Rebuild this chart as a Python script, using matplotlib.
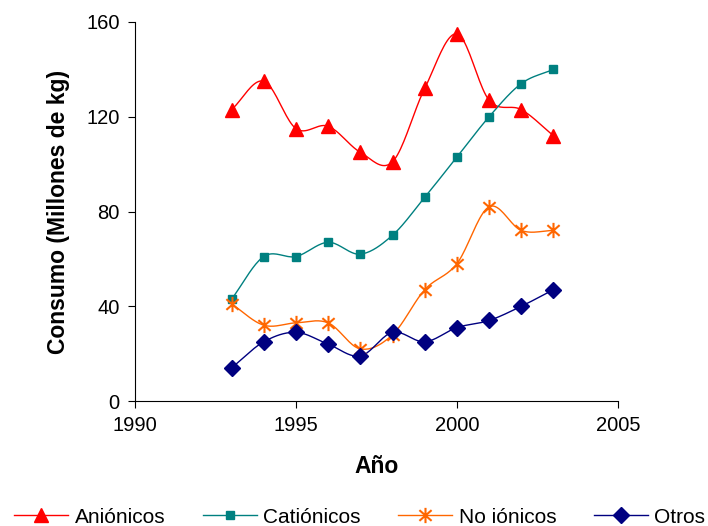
import numpy as np
import matplotlib.pyplot as plt
from matplotlib.path import Path

plt.rcParams['font.family'] = ['Liberation Sans', 'DejaVu Sans']

years = [1993, 1994, 1995, 1996, 1997, 1998, 1999, 2000, 2001, 2002, 2003]
anionicos = [123, 135, 115, 116, 105, 101, 132, 155, 127, 123, 112]
cationicos = [43, 61, 61, 67, 62, 70, 86, 103, 120, 134, 140]
no_ionicos = [41, 32, 33, 33, 22, 28, 47, 58, 82, 72, 72]
otros = [14, 25, 29, 24, 19, 29, 25, 31, 34, 40, 47]


def smooth(x, y, n=20):
    # catmull-rom curve through the points, like the spreadsheet "smoothed line"
    x = np.asarray(x, float)
    y = np.asarray(y, float)
    px = np.concatenate([[2 * x[0] - x[1]], x, [2 * x[-1] - x[-2]]])
    py = np.concatenate([[2 * y[0] - y[1]], y, [2 * y[-1] - y[-2]]])
    xs, ys = [], []
    t = np.linspace(0, 1, n, endpoint=False)
    for i in range(1, len(px) - 2):
        for p, out in ((px, xs), (py, ys)):
            p0, p1, p2, p3 = p[i - 1], p[i], p[i + 1], p[i + 2]
            out.extend(0.5 * (2 * p1 + (-p0 + p2) * t
                              + (2 * p0 - 5 * p1 + 4 * p2 - p3) * t ** 2
                              + (-p0 + 3 * p1 - 3 * p2 + p3) * t ** 3))
    xs.append(x[-1])
    ys.append(y[-1])
    return xs, ys


# asterisk: vertical bar plus an x
star = Path([(0, -1), (0, 1), (-0.8, -0.7), (0.8, 0.7), (-0.8, 0.7), (0.8, -0.7)],
            [Path.MOVETO, Path.LINETO, Path.MOVETO, Path.LINETO, Path.MOVETO, Path.LINETO])

series = [
    ('Aniónicos', anionicos, '#FF0000', '^', 10, {}),
    ('Catiónicos', cationicos, '#008080', 's', 5.5, {}),
    ('No iónicos', no_ionicos, '#FF6600', star, 11, {'markeredgewidth': 1.5}),
    ('Otros', otros, '#000080', 'D', 8, {}),
]

fig = plt.figure(figsize=(7.08, 5.26), dpi=100)
ax = fig.add_axes([0.1907, 0.2376, 0.682, 0.7206])

for name, vals, color, marker, ms, extra in series:
    sx, sy = smooth(years, vals)
    ax.plot(sx, sy, color=color, lw=1.0, zorder=2)
    ax.plot(years, vals, linestyle='none', marker=marker, markersize=ms,
            color=color, markeredgecolor=color, zorder=3, **extra)
    ax.plot([], [], color=color, lw=1.0, marker=marker, markersize=ms,
            markeredgecolor=color, label=name, **extra)

ax.set_xlim(1990, 2005)
ax.set_ylim(0, 160)
ax.set_xticks([1990, 1995, 2000, 2005])
ax.set_yticks([0, 40, 80, 120, 160])
ax.spines['top'].set_visible(False)
ax.spines['right'].set_visible(False)
ax.tick_params(labelsize=14.5, length=5, direction='out', pad=6)
ax.set_xlabel('Año', fontsize=16.5, fontweight='bold', labelpad=14)
ax.set_ylabel('Consumo (Millones de kg)', fontsize=16.5, fontweight='bold', labelpad=12)

fig.legend(loc='center', bbox_to_anchor=(0.508, 0.017), ncol=4, frameon=False,
           fontsize=15, handlelength=2.6, columnspacing=1.8, handletextpad=0.3,
           borderpad=0)

fig.savefig('out.png', dpi=100)
